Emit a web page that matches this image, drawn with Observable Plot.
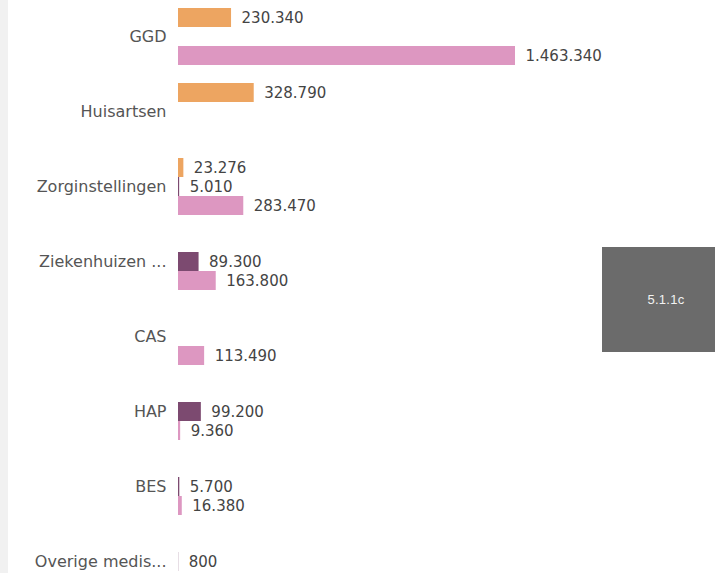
<!DOCTYPE html>
<html>
<head>
<meta charset="utf-8">
<script src="https://cdn.jsdelivr.net/npm/d3@7"></script>
<script src="https://cdn.jsdelivr.net/npm/@observablehq/plot@0.6"></script>
<style>
  html, body { margin: 0; padding: 0; background: #fff; overflow: hidden; }
  #wrap { position: relative; width: 715px; height: 573px; overflow: hidden; }
  #strip { position: absolute; left: 0; top: 0; width: 8px; height: 100%; background: #f1f1f1; z-index: 2; }
  #tip { position: absolute; left: 602px; top: 247px; width: 128px; height: 105px; background: #6b6b6b;
         color: #f2f2f2; font: 13px "Liberation Sans", Arial, sans-serif; display: flex; align-items: center;
         justify-content: center; z-index: 3; letter-spacing: 0.3px; }
  #chart { position: absolute; left: 0; top: 0; }
</style>
</head>
<body>
<div id="wrap">
  <div id="strip"></div>
  <div id="chart"></div>
  <div id="tip">5.1.1c</div>
</div>
<script>
const categories = ["GGD", "Huisartsen", "Zorginstellingen", "Ziekenhuizen ...", "CAS", "HAP", "BES", "Overige medis..."];
const seriesNames = ["Reeks 1", "Reeks 2", "Reeks 3"];
const seriesColors = ["#eda561", "#7c4a70", "#dd97c1"];
const reeks1Values = [230340, 328790, 23276, null, null, null, null, null];
const reeks2Values = [null, null, 5010, 89300, null, 99200, 5700, 800];
const reeks3Values = [1463340, null, 283470, 163800, 113490, 9360, 16380, null];

const allValues = [reeks1Values, reeks2Values, reeks3Values];
const data = [];
categories.forEach((c, i) => {
  seriesNames.forEach((s, j) => {
    const v = allValues[j][i];
    if (v != null) data.push({category: c, series: s, value: v});
  });
});

const nl = d3.formatLocale({decimal: ",", thousands: ".", grouping: [3], currency: ["€", ""]});
const fmt = nl.format(",");

const chart = Plot.plot({
  width: 715,
  height: 594,
  marginLeft: 178,
  marginRight: 200,
  marginTop: 5,
  marginBottom: 0,
  style: {fontFamily: "DejaVu Sans", fontSize: "16px", color: "#555", background: "transparent"},
  x: {domain: [0, 1463340], axis: null},
  y: {domain: seriesNames, axis: null, padding: 0},
  fy: {domain: categories, axis: "left", tickSize: 0, tickPadding: 12, label: null, paddingInner: 0.209, paddingOuter: 0},
  color: {domain: seriesNames, range: seriesColors},
  marks: [
    Plot.barX(data, {x: "value", y: "series", fy: "category", fill: "series", insetTop: 0, insetBottom: 0}),
    Plot.text(data, {x: "value", y: "series", fy: "category", text: d => fmt(d.value),
      textAnchor: "start", dx: 10, fontSize: 15, fill: "#444"})
  ]
});
document.getElementById("chart").appendChild(chart);
</script>
</body>
</html>
